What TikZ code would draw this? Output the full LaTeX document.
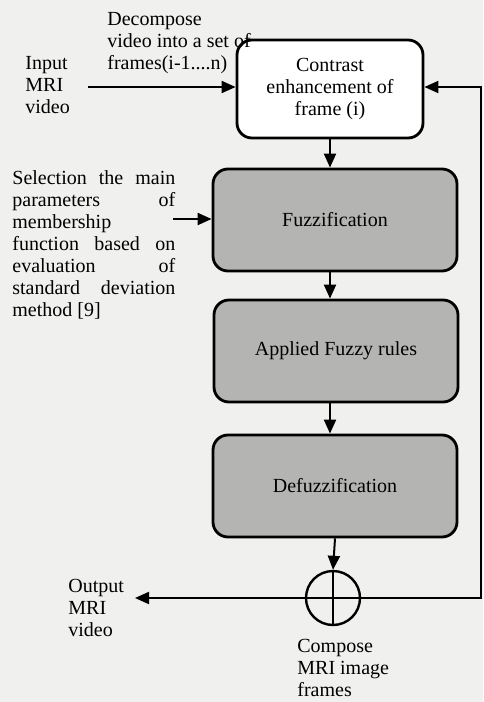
\documentclass[tikz,border=0pt]{standalone}
\usepackage{fontspec}
\setmainfont{Liberation Serif}
\usetikzlibrary{arrows.meta}

\definecolor{paper}{RGB}{240,240,238}
\definecolor{boxgray}{RGB}{180,180,178}

\newcommand{\jline}[1]{\makebox[81.5pt][s]{#1}}

\tikzset{
  frame/.style={draw, line width=1.4pt, rounded corners=7.5pt, fill=white,
    minimum width=93pt, minimum height=49pt, align=center},
  fuzzy/.style={frame, fill=boxgray, minimum width=122pt, minimum height=51pt},
  txt/.style={anchor=north west, inner sep=0pt, align=left},
  arr/.style={line width=1pt, -{Triangle[length=7pt,width=6pt]}}
}

\begin{document}
\begin{tikzpicture}[x=0.5pt, y=-0.5pt, font=\fontsize{10}{11}\selectfont]

  \fill[paper] (0,0) rectangle (483,702);
  \useasboundingbox (0,0) rectangle (483,702);

  \node[frame] (contrast) at (330,89) {Contrast\\enhancement of\\frame (i)};
  \node[fuzzy] (fuzz) at (335,220) {Fuzzification};
  \node[fuzzy] (rules) at (336,351) {Applied Fuzzy rules};
  \node[fuzzy] (defuzz) at (335,486) {Defuzzification};
  \node[draw, circle, line width=1.2pt, minimum size=27pt, inner sep=0pt] (compose) at (333,598) {};

  \node[txt] (input) at (25,56) {Input\\MRI\\video};
  \node[txt] (decomp) at (107,12) {Decompose\\video into a set of\\frames(i-1....n)};
  \node[txt] (select) at (12,170) {\jline{Selection the main}\\\jline{parameters of}\\membership\\
    \jline{function based on}\\\jline{evaluation of}\\\jline{standard deviation}\\method [9]};
  \node[txt] (output) at (68,579) {Output\\MRI\\video};
  \node[txt] (frames) at (297,639) {Compose\\MRI image\\frames};

  \coordinate (in) at (88,87);
  \coordinate (sel) at (173,219);
  \coordinate (out) at (135,598);
  \coordinate (back) at (481,598);

  \draw[arr] (in) -- (in -| contrast.west);
  \draw[arr] (sel) -- (sel -| fuzz.west);
  \draw[arr] (contrast.south) -- (contrast.south |- fuzz.north);
  \draw[arr] (fuzz.south -| contrast.south) -- (contrast.south |- rules.north);
  \draw[arr] (contrast.south |- rules.south) -- (contrast.south |- defuzz.north);
  \draw[arr] (defuzz.south) -- (compose.north);
  \draw[line width=1.2pt] (compose.north) -- (compose.south) (compose.west) -- (compose.east);
  \draw[arr] (compose.west) -- (out);
  \draw[arr] (compose.east) -- (back) |- (in -| contrast.east);

\end{tikzpicture}
\end{document}
